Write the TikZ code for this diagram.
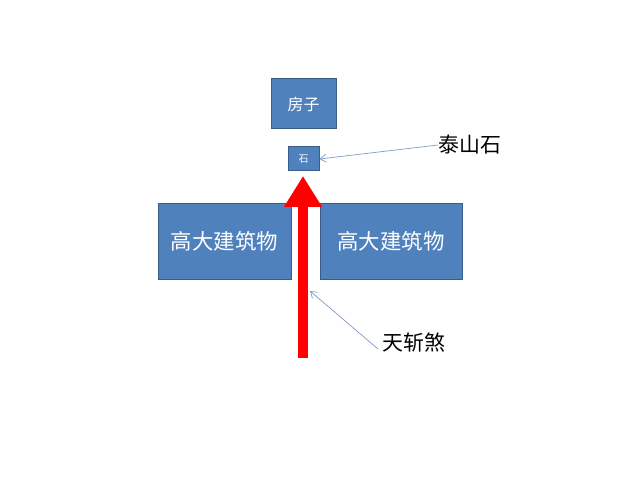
\documentclass[tikz,border=0pt]{standalone}
\usepackage{fontspec}
\newfontfamily\cjk{Noto Sans CJK SC}
\usetikzlibrary{arrows.meta}
\definecolor{boxfill}{HTML}{4F81BD}
\definecolor{boxline}{HTML}{385D8A}
\definecolor{callout}{HTML}{7F9CC8}
\begin{document}
\begin{tikzpicture}[x=1bp,y=-1bp,
  box/.style={draw=boxline,line width=1bp,fill=boxfill,text=white,font=\cjk,inner sep=0pt},
  lbl/.style={font=\cjk\fontsize{21}{25}\selectfont,text=black,inner sep=0pt},
  pointer/.style={draw=callout,line width=0.7bp,-{Straight Barb[length=6bp,width=8bp]}}]
\useasboundingbox[fill=white] (0,0) rectangle (640,480);
\node[box,minimum width=65bp,minimum height=50bp,font=\cjk\fontsize{16}{19}\selectfont] (house) at (303.5,104) {房子};
\node[box,minimum width=31bp,minimum height=24bp,font=\cjk\fontsize{10}{12}\selectfont] (stone) at (303.5,159) {石};
\node[box,minimum width=133bp,minimum height=75bp,font=\cjk\fontsize{21.5}{25}\selectfont] (bldL) at (224.5,241.5) {高大建筑物};
\node[box,minimum width=142bp,minimum height=75bp,font=\cjk\fontsize{21.5}{25}\selectfont] (bldR) at (391,241.5) {高大建筑物};
\coordinate (shaftbot) at (303,358);
\coordinate (shafttip) at (303,176);
\draw[red,line width=10bp,-{Triangle[width=36bp,length=31bp]}] (shaftbot) -- (shafttip);
\node[lbl,anchor=west] (taishan) at (438,145) {泰山石};
\node[lbl,anchor=west] (tianzhan) at (382,343) {天斩煞};
\coordinate (hit) at (310,291);
\draw[pointer] (taishan.west) -- (stone.east);
\draw[pointer] ([xshift=-4bp,yshift=-6bp]tianzhan.west) -- (hit);
\end{tikzpicture}
\end{document}
